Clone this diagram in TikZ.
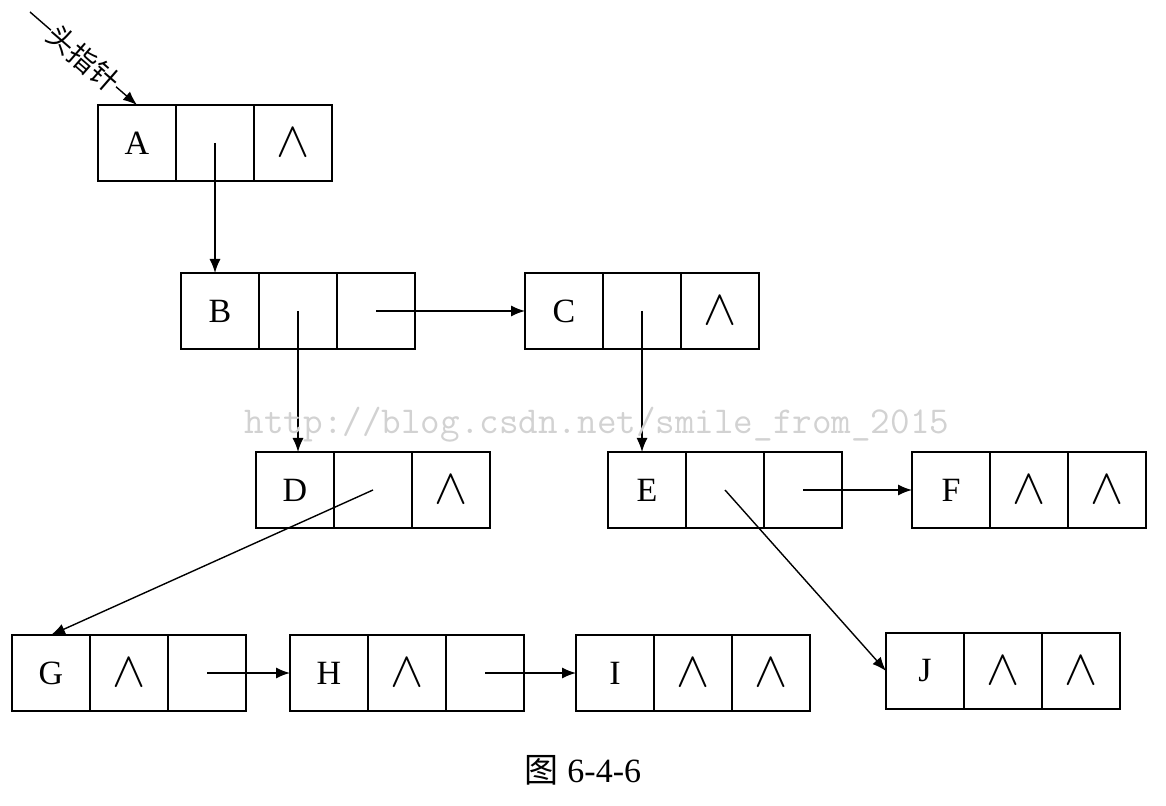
\documentclass[tikz,border=0pt]{standalone}
\usepackage{fontspec}
\setmainfont{Liberation Serif}
\newfontfamily\cjk{Noto Sans CJK SC}
\usetikzlibrary{positioning}
\usetikzlibrary{arrows.meta}
\newcommand\nullsym{\fontsize{26}{26}\selectfont$\wedge$}

\begin{document}
\begin{tikzpicture}[x=0.5pt,y=-0.5pt,
    cell/.style={draw,line width=0.9pt,minimum width=39pt,minimum height=38pt,
      inner sep=0pt,outer sep=0pt,font=\fontsize{17}{17}\selectfont},
    ptr/.style={-{Latex[length=7pt,width=5.5pt]},line width=0.7pt}]
  \useasboundingbox (0,0) rectangle (1166,806);
  % records: name / left / top / data / first pointer / second pointer
  \foreach \n/\x/\y/\a/\b/\c in {A/98/105/A//\nullsym,
      B/181/273/B//, C/525/273/C//\nullsym,
      D/256/452/D//\nullsym, E/608/452/E//, F/912/452/F/\nullsym/\nullsym,
      G/12/635/G/\nullsym/, H/290/635/H/\nullsym/,
      I/576/635/I/\nullsym/\nullsym, J/886/633/J/\nullsym/\nullsym} {
    \node[cell,anchor=north west] (\n1) at (\x,\y) {\a};
    \node[cell,right=0pt of \n1] (\n2) {\b};
    \node[cell,right=0pt of \n2] (\n3) {\c};
  }
  % head pointer
  \coordinate (head) at (30,12);
  \draw[ptr] (head) -- node[sloped,fill=white,inner sep=0.5pt,
    font=\cjk\fontsize{14}{14}\selectfont] (headlabel) {头指针} (A1.north);
  % links
  \draw[ptr] (A2.center) -- (A2.center |- B1.north);
  \draw[ptr] (B2.center) -- (B2.center |- D1.north);
  \draw[ptr] (B3.center) -- (C1.west);
  \draw[ptr] (C2.center) -- (C2.center |- E1.north);
  \draw[ptr] (D2.center) -- (G1.north);
  \draw[ptr] (E2.center) -- (J1.west);
  \draw[ptr] (E3.center) -- (F1.west);
  \draw[ptr] (G3.center) -- (H1.west);
  \draw[ptr] (H3.center) -- (I1.west);
  % watermark and caption
  \node[text=gray!35,font=\ttfamily\fontsize{19}{19}\selectfont] (mark)
    at (597,425) {http://blog.csdn.net/smile\_from\_2015};
  \node[font=\fontsize{17}{17}\selectfont] (caption) at (583,770) {{\cjk 图} 6-4-6};
\end{tikzpicture}
\end{document}
